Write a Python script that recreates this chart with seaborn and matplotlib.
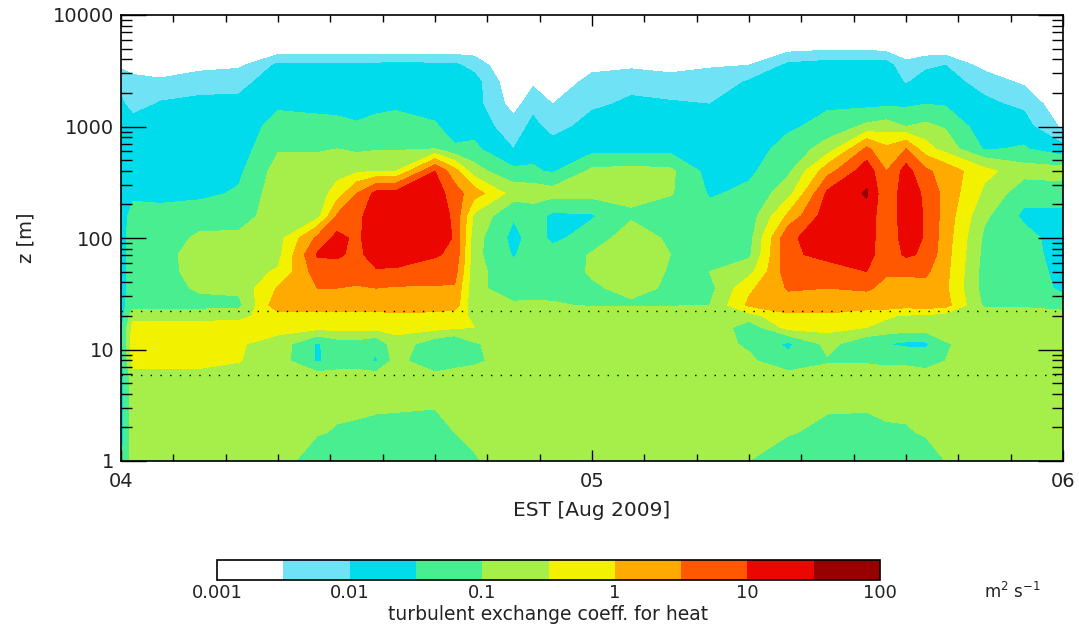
import numpy as np
import matplotlib
matplotlib.use("Agg")
import matplotlib.pyplot as plt
import seaborn as sns
from matplotlib.ticker import FixedLocator, NullFormatter

# hours after 04 Aug 2009 00 EST
hours = [0, 0.6, 2, 4, 6, 8, 10, 11, 12, 13, 14, 16, 17, 18, 20, 21, 22, 24,
         26, 28, 30, 32, 34, 36, 38, 39, 40, 41, 42, 44, 46, 48]

# height levels [m]
heights = [1, 1.8, 3.2, 5.6, 7.9, 11.2, 15.8, 20, 25, 35.5, 50, 71, 100, 158,
           251, 398, 631, 1000, 1585, 2512, 3548, 5012, 10000]

# log10 of exchange coeff [m2 s-1], one profile (bottom -> top) per hour above
logk = [
    [-1.6, -1.7, -1.7, -1.7, -1.7, -1.7, -1.7, -1.7, -1.7, -1.7, -1.7, -1.7, -1.7, -1.7, -1.75, -1.75, -1.75, -1.8, -1.9, -2.2, -2.6, -3.0, -3.0],  # 0
    [-0.75, -0.75, -0.75, -0.7, -0.3, -0.25, -0.3, -0.7, -1.2, -1.25, -1.25, -1.25, -1.25, -1.35, -1.6, -1.7, -1.75, -1.8, -2.2, -2.3, -2.8, -3.0, -3.0],  # 0.6
    [-0.75, -0.75, -0.75, -0.7, -0.3, -0.2, -0.3, -0.7, -1.2, -1.3, -1.3, -1.25, -1.3, -1.4, -1.6, -1.7, -1.75, -1.8, -1.95, -2.4, -2.9, -3.0, -3.0],  # 2
    [-0.75, -0.75, -0.75, -0.7, -0.3, -0.2, -0.3, -0.7, -1.2, -0.9, -0.7, -0.7, -0.9, -1.3, -1.6, -1.7, -1.75, -1.8, -1.9, -2.2, -2.7, -3.0, -3.0],  # 4
    [-0.75, -0.75, -0.75, -0.7, -0.48, -0.45, -0.3, -0.65, -1.15, -0.85, -0.7, -0.7, -0.9, -1.25, -1.45, -1.6, -1.75, -1.8, -1.9, -2.15, -2.6, -3.0, -3.0],  # 6
    [-0.75, -0.75, -0.75, -0.75, -0.75, -0.7, -0.3, -0.2, 0.35, 0.05, -0.45, -0.65, -0.7, -0.7, -0.7, -0.8, -1.05, -1.3, -1.6, -1.75, -1.9, -2.9, -3.0],  # 8
    [-1.3, -0.95, -0.8, -0.75, -1.55, -1.55, -0.3, -0.2, 0.3, 0.5, 0.75, 1.05, 0.6, -0.7, -0.75, -0.8, -1.05, -1.3, -1.7, -1.75, -1.9, -2.9, -3.0],  # 10
    [-1.3, -1.05, -0.85, -0.75, -1.35, -1.25, -0.3, -0.2, 0.3, 0.5, 0.75, 1.1, 1.15, 0.55, -0.3, -0.7, -1.0, -1.35, -1.7, -1.75, -1.9, -2.9, -3.0],  # 11
    [-1.3, -1.1, -0.85, -0.75, -1.3, -1.2, -0.3, -0.2, 0.3, 0.45, 0.8, 0.85, 0.9, 0.85, 0.5, -0.6, -1.1, -1.45, -1.7, -1.75, -1.9, -2.9, -3.0],  # 12
    [-1.35, -1.15, -0.9, -0.75, -1.55, -1.4, -0.3, -0.2, 0.3, 0.5, 0.95, 1.25, 1.3, 1.3, 1.15, -0.5, -1.05, -1.35, -1.65, -1.75, -1.9, -2.9, -3.0],  # 13
    [-1.45, -1.2, -0.9, -0.75, -0.8, -0.7, -0.3, -0.1, 0.3, 0.45, 0.95, 1.2, 1.3, 1.3, 1.15, -0.5, -1.05, -1.3, -1.6, -1.75, -1.85, -2.9, -3.0],  # 14
    [-1.45, -1.2, -0.95, -0.8, -1.45, -1.3, -0.3, -0.2, 0.35, 0.45, 0.8, 1.05, 1.3, 1.3, 1.3, 1.0, -1.0, -1.45, -1.7, -1.75, -1.9, -2.9, -3.0],  # 16
    [-1.3, -1.0, -0.8, -0.8, -1.2, -1.5, -0.4, -0.3, 0.3, 0.45, 0.7, 0.9, 0.95, 0.9, 0.7, 0.2, -1.45, -1.7, -1.75, -1.8, -1.9, -2.9, -3.0],  # 17
    [-1.05, -0.85, -0.75, -0.75, -1.1, -1.05, -0.5, -0.6, -0.9, -0.9, -0.85, -0.85, -0.8, -0.6, 0.25, -0.8, -1.4, -1.7, -1.8, -1.8, -2.2, -2.8, -3.0],  # 18
    [-0.75, -0.75, -0.75, -0.75, -0.75, -0.75, -0.7, -0.7, -0.95, -1.2, -1.3, -1.55, -1.65, -1.45, -0.7, -1.4, -2.0, -2.3, -2.7, -2.9, -3.0, -3.0, -3.0],  # 20
    [-0.75, -0.75, -0.75, -0.75, -0.75, -0.75, -0.7, -0.7, -0.95, -1.15, -1.2, -1.25, -1.3, -1.3, -0.7, -1.45, -1.65, -1.85, -2.2, -2.6, -3.0, -3.0, -3.0],  # 21
    [-0.75, -0.75, -0.75, -0.75, -0.75, -0.75, -0.7, -0.7, -0.95, -1.2, -1.25, -1.35, -1.6, -1.6, -0.8, -1.55, -1.8, -2.2, -2.5, -2.9, -3.0, -3.0, -3.0],  # 22
    [-0.75, -0.75, -0.75, -0.75, -0.75, -0.75, -0.7, -0.7, -1.05, -1.05, -0.95, -0.95, -1.3, -1.55, -0.8, -0.9, -1.7, -1.8, -2.1, -2.3, -2.7, -3.0, -3.0],  # 24
    [-0.75, -0.75, -0.75, -0.75, -0.75, -0.75, -0.55, -0.55, -1.05, -0.9, -0.7, -0.65, -0.7, -1.1, -0.8, -0.85, -1.7, -1.8, -1.9, -2.2, -2.6, -3.0, -3.0],  # 26
    [-0.75, -0.75, -0.75, -0.75, -0.75, -0.75, -0.6, -0.6, -1.05, -1.05, -1.05, -1.0, -1.1, -1.35, -0.95, -0.9, -1.7, -1.8, -1.95, -2.3, -2.7, -3.0, -3.0],  # 28
    [-0.75, -0.75, -0.75, -0.75, -0.75, -0.75, -0.6, -0.6, -1.0, -1.15, -1.0, -1.05, -1.2, -1.35, -1.55, -1.7, -1.8, -1.85, -2.0, -2.3, -2.55, -3.0, -3.0],  # 30
    [-1.0, -0.8, -0.8, -0.8, -0.9, -1.1, -1.3, -0.7, 0.1, -0.1, -0.7, -1.1, -1.2, -1.3, -1.4, -1.6, -1.75, -1.8, -1.8, -1.95, -2.5, -3.0, -3.0],  # 32
    [-1.3, -0.95, -0.8, -0.8, -1.35, -1.6, -0.3, -0.1, 0.3, 0.55, 0.8, 0.9, 0.9, 0.1, -0.7, -1.1, -1.3, -1.6, -1.75, -1.8, -1.9, -2.7, -3.0],  # 34
    [-1.35, -1.15, -0.9, -0.8, -1.05, -0.85, -0.3, -0.1, 0.3, 0.5, 0.8, 1.15, 1.3, 1.3, 1.1, 0.3, -0.8, -1.3, -1.6, -1.7, -1.8, -2.6, -3.0],  # 36
    [-1.3, -1.1, -0.95, -0.8, -1.05, -1.35, -0.5, -0.35, 0.3, 0.55, 1.0, 1.25, 1.3, 1.35, 1.55, 1.3, 0.6, -0.9, -1.65, -1.7, -1.8, -2.6, -3.0],  # 38
    [-1.25, -1.05, -0.9, -0.8, -1.1, -1.5, -0.6, -0.45, 0.3, 0.4, 0.55, 0.6, 0.6, 0.6, 0.6, 0.5, 0.1, -0.8, -1.6, -1.7, -1.8, -2.7, -3.0],  # 39
    [-1.3, -1.05, -0.85, -0.8, -1.1, -1.6, -0.7, -0.55, 0.2, 0.3, 0.6, 1.1, 1.25, 1.3, 1.3, 1.2, 0.5, -1.0, -1.6, -2.05, -2.35, -2.9, -3.0],  # 40
    [-1.2, -0.95, -0.8, -0.8, -1.2, -1.6, -0.7, -0.6, 0.3, 0.35, 0.6, 0.9, 0.95, 0.95, 0.9, 0.6, -0.3, -0.9, -1.5, -1.8, -2.1, -2.9, -3.0],  # 41
    [-1.0, -0.8, -0.75, -0.75, -1.0, -1.05, -0.7, -0.7, 0.2, 0.1, 0.15, 0.2, 0.25, 0.3, 0.35, 0.3, -0.7, -1.05, -1.55, -1.8, -2.0, -2.9, -3.0],  # 42
    [-0.75, -0.75, -0.75, -0.75, -0.75, -0.75, -0.7, -0.75, -1.1, -1.2, -1.2, -1.15, -1.1, -0.9, -0.6, -0.35, -1.55, -1.8, -1.9, -2.2, -2.7, -3.0, -3.0],  # 44
    [-0.75, -0.75, -0.75, -0.75, -0.75, -0.75, -0.7, -0.7, -1.1, -1.2, -1.25, -1.3, -1.35, -1.6, -1.3, -0.8, -1.45, -1.8, -2.1, -2.6, -3.0, -3.0, -3.0],  # 46
    [-0.75, -0.75, -0.75, -0.75, -0.75, -0.75, -0.7, -0.7, -1.3, -1.6, -1.65, -1.7, -1.7, -1.65, -1.2, -0.8, -1.85, -2.6, -2.9, -3.0, -3.0, -3.0, -3.0],  # 48
]

# colour classes (log10 bounds) and colours
levels_log = [-3, -2.5, -2, -1.5, -1, -0.5, 0, 0.5, 1, 1.5, 2]
band_colors = ['#ffffff', '#6fe2f6', '#00dcec', '#48ee90', '#a6ef4a',
               '#f2f200', '#ffaa00', '#ff5800', '#ec0600', '#980000']
cbar_ticks = [-3, -2, -1, 0, 1, 2]
cbar_labels = ['0.001', '0.01', '0.1', '1', '10', '100']

day_hours = [0, 24, 48]
day_labels = ['04', '05', '06']
z_ticks = [1, 10, 100, 1000, 10000]
z_labels = ['1', '10', '100', '1000', '10000']
sensor_heights = [22.3, 5.9]

sns.set_style("ticks")
plt.rcParams['font.family'] = ['DejaVu Sans']
plt.rcParams['axes.linewidth'] = 1.2

W, H = 1079, 626
fig = plt.figure(figsize=(W / 100, H / 100), dpi=100)
ax = fig.add_axes([121 / W, 1 - 461 / H, 942 / W, 446 / H])
ax.set_axisbelow(False)

Z = np.array(logk).T
cs = ax.contourf(hours, heights, Z, levels=levels_log, colors=band_colors)
ax.set_yscale('log')
ax.set_xlim(0, 48)
ax.set_ylim(1, 10000)

for zh in sensor_heights:
    ax.axhline(zh, color='black', lw=1.0, ls=(0, (1, 6)))

ax.xaxis.set_major_locator(FixedLocator(day_hours))
ax.set_xticklabels(day_labels)
ax.xaxis.set_minor_locator(FixedLocator(np.linspace(0, 48, 19)))
ax.yaxis.set_major_locator(FixedLocator(z_ticks))
ax.set_yticklabels(z_labels)
minor_z = [m * 10 ** e for e in range(4) for m in range(2, 10)]
ax.yaxis.set_minor_locator(FixedLocator(minor_z))
ax.yaxis.set_minor_formatter(NullFormatter())

ax.tick_params(which='both', direction='in', top=True, right=True,
               color='black', width=1.0, labelsize=14, labelcolor='#222222')
ax.tick_params(axis='x', which='major', length=8, pad=8)
ax.tick_params(axis='x', which='minor', length=5)
ax.tick_params(axis='y', which='major', length=18, pad=5)
ax.tick_params(axis='y', which='minor', length=8)
for s in ax.spines.values():
    s.set_color('black')
    s.set_zorder(5)

fig.text(26 / W, 1 - 238 / H, 'z [m]', rotation=90, ha='center', va='center',
         fontsize=14, color='#222222')
fig.text(592 / W, 1 - 510 / H, 'EST [Aug 2009]', ha='center', va='center',
         fontsize=14.5, color='#222222')

# colour bar
cax = fig.add_axes([217 / W, 1 - 580 / H, 663 / W, 20 / H])
cb = fig.colorbar(cs, cax=cax, orientation='horizontal', ticks=cbar_ticks)
cb.ax.set_xticklabels(cbar_labels)
cb.ax.tick_params(length=0, labelsize=13, pad=3, labelcolor='#222222')
cb.outline.set_linewidth(1.2)
cb.outline.set_edgecolor('black')
fig.text(548 / W, 1 - 614 / H, 'turbulent exchange coeff. for heat',
         ha='center', va='center', fontsize=13.5, color='#222222')
fig.text(1012 / W, 1 - 592 / H, r'm$^2$ s$^{-1}$', ha='center', va='center',
         fontsize=12, color='#222222')

fig.savefig('out.png', dpi=100)
